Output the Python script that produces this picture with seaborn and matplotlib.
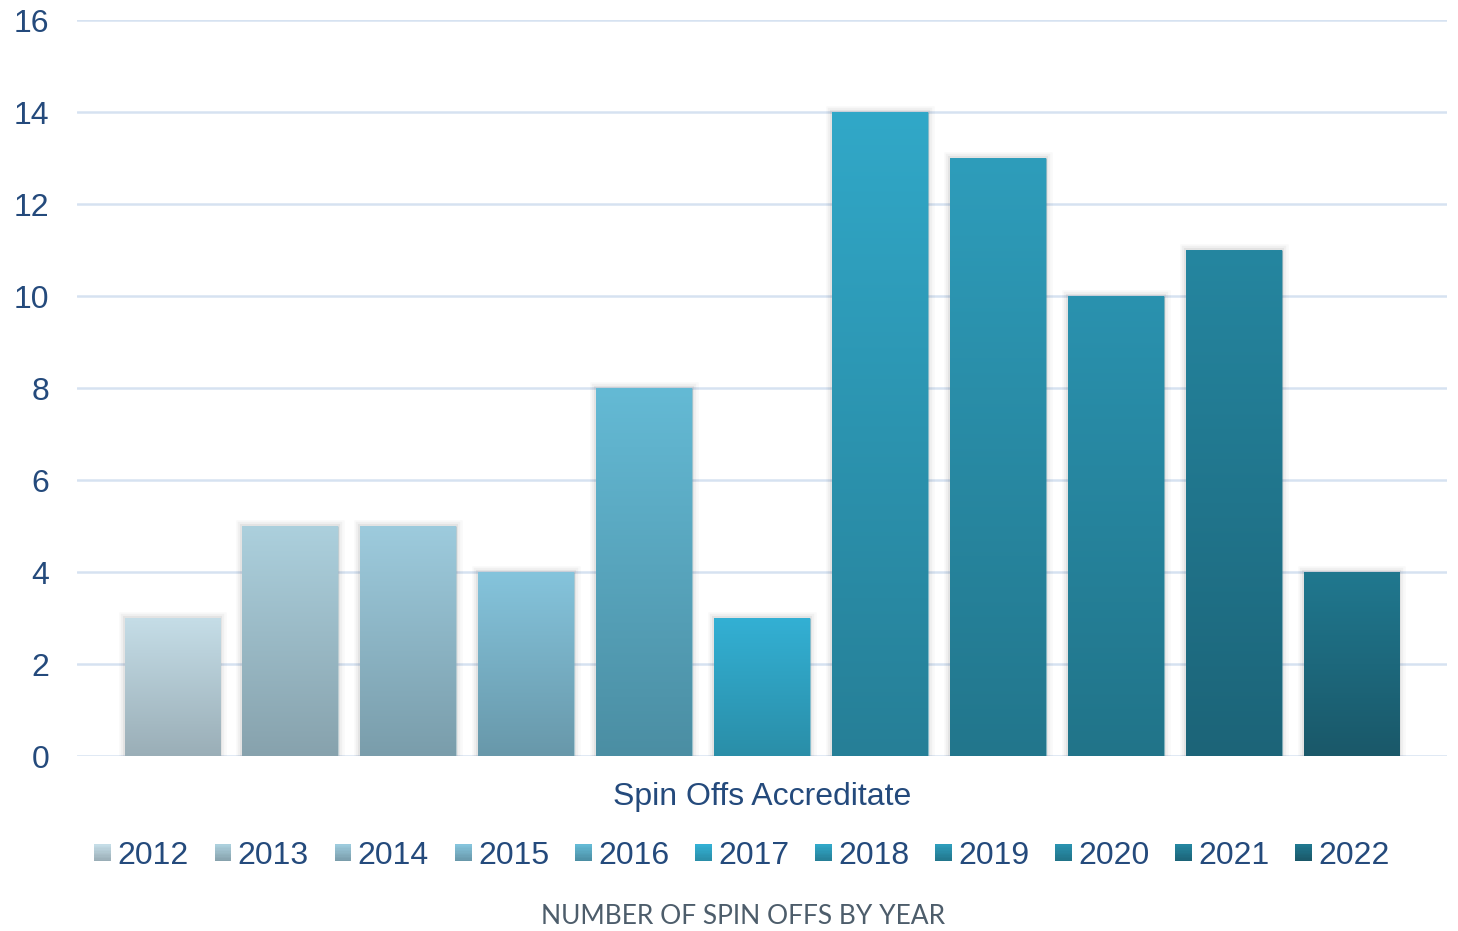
import numpy as np
import pandas as pd
import matplotlib
matplotlib.use("Agg")
import matplotlib.pyplot as plt
import matplotlib.patheffects as pe
from matplotlib.colors import to_rgb
from matplotlib.patches import Rectangle
from matplotlib.legend_handler import HandlerBase
import seaborn as sns

# --- data -------------------------------------------------------------
category = "Spin Offs Accreditate"
years = ["2012", "2013", "2014", "2015", "2016", "2017",
         "2018", "2019", "2020", "2021", "2022"]
spin_offs = [3, 5, 5, 4, 8, 3, 14, 13, 10, 11, 4]

# gradient colours per year (top -> bottom of each bar)
top_colors = ["#c5dde7", "#acd0dd", "#9dcbdd", "#85c4dc", "#64bad5", "#33b0d4",
              "#31a8c8", "#2e9dbb", "#2a92af", "#2586a0", "#20788f"]
bottom_colors = ["#9aaeb7", "#87a2ad", "#7a9dab", "#6898aa", "#4b8ea3", "#2a8ea8",
                 "#267f97", "#22768c", "#217489", "#1c6478", "#1a5869"]

y_ticks = [0, 2, 4, 6, 8, 10, 12, 14, 16]
title = "NUMBER OF SPIN OFFS BY YEAR"

df = pd.DataFrame({"category": [category] * len(years),
                   "year": years,
                   "value": spin_offs})

# --- styling ----------------------------------------------------------
sns.set_theme(style="white")
plt.rcParams["font.family"] = ["Liberation Sans", "DejaVu Sans"]
text_blue = "#244a7c"
grid_color = "#d6e2f1"
font_size = 23

fig = plt.figure(figsize=(14.58, 9.31), dpi=100)
ax = fig.add_axes([77 / 1458, 175 / 931, 1370 / 1458, 736 / 931])

sns.barplot(data=df, x="category", y="value", hue="year", hue_order=years,
            palette=top_colors, width=0.947, gap=0.19, ax=ax,
            legend=False, saturation=1, edgecolor="none", linewidth=0,
            zorder=3)


def gradient(c_top, c_bot, n=256):
    t = np.linspace(0, 1, n)[:, None]
    a, b = np.array(to_rgb(c_top)), np.array(to_rgb(c_bot))
    return (a * (1 - t) + b * t)[:, None, :]


shadow = [pe.Stroke(linewidth=9, foreground=(0, 0, 0, 0.025)),
          pe.Stroke(linewidth=6, foreground=(0, 0, 0, 0.035)),
          pe.Stroke(linewidth=3, foreground=(0, 0, 0, 0.05)),
          pe.Normal()]

for i, container in enumerate(ax.containers):
    for bar in container:
        x0, w, h = bar.get_x(), bar.get_width(), bar.get_height()
        bar.set_path_effects(shadow)
        img = ax.imshow(gradient(top_colors[i], bottom_colors[i]),
                        extent=[x0, x0 + w, 0, h], origin="upper",
                        aspect="auto", zorder=4, interpolation="bilinear")
        img.set_clip_path(bar)

ax.set_xlim(-0.5, 0.5)
ax.set_ylim(0, 16)
ax.set_aspect("auto")

# axes, grid, ticks
ax.set_yticks(y_ticks)
ax.yaxis.grid(True, color=grid_color, linewidth=1.8, zorder=0)
ax.set_axisbelow(True)
for s in ax.spines.values():
    s.set_visible(False)
ax.tick_params(axis="y", length=0, pad=20, labelsize=font_size,
               labelcolor=text_blue)
ax.tick_params(axis="x", length=0, pad=19, labelsize=font_size,
               labelcolor=text_blue)
ax.set_xlabel("")
ax.set_ylabel("")


# legend with gradient swatches
class GradientSquare(HandlerBase):
    def __init__(self, c_top, c_bot, steps=12):
        super().__init__()
        self.c_top, self.c_bot, self.steps = c_top, c_bot, steps

    def create_artists(self, legend, orig_handle, xdescent, ydescent,
                       width, height, fontsize, trans):
        side = min(width, height)
        x0 = -xdescent + (width - side) / 2
        y0 = -ydescent + (height - side) / 2
        cols = gradient(self.c_top, self.c_bot, self.steps)[:, 0, :]
        step = side / self.steps
        arts = []
        for k, c in enumerate(cols):
            r = Rectangle((x0, y0 + side - (k + 1) * step), side, step * 1.02,
                          facecolor=c, edgecolor="none", transform=trans)
            arts.append(r)
        return arts


handles = [Rectangle((0, 0), 1, 1) for _ in years]
handler_map = {h: GradientSquare(t, b) for h, t, b in
               zip(handles, top_colors, bottom_colors)}
fig.legend(handles, years, handler_map=handler_map, loc="center",
           bbox_to_anchor=(742 / 1458, 1 - 856 / 931), ncol=len(years),
           frameon=False, fontsize=font_size, labelcolor=text_blue,
           handlelength=0.53, handleheight=0.53, handletextpad=0.2,
           columnspacing=0.8, borderpad=0)

fig.text(743 / 1458, 1 - 917 / 931, title, ha="center", va="center",
         fontsize=19, color="#4d5d6b", family=["Lato", "DejaVu Sans"])

fig.savefig("out.png", dpi=100)
